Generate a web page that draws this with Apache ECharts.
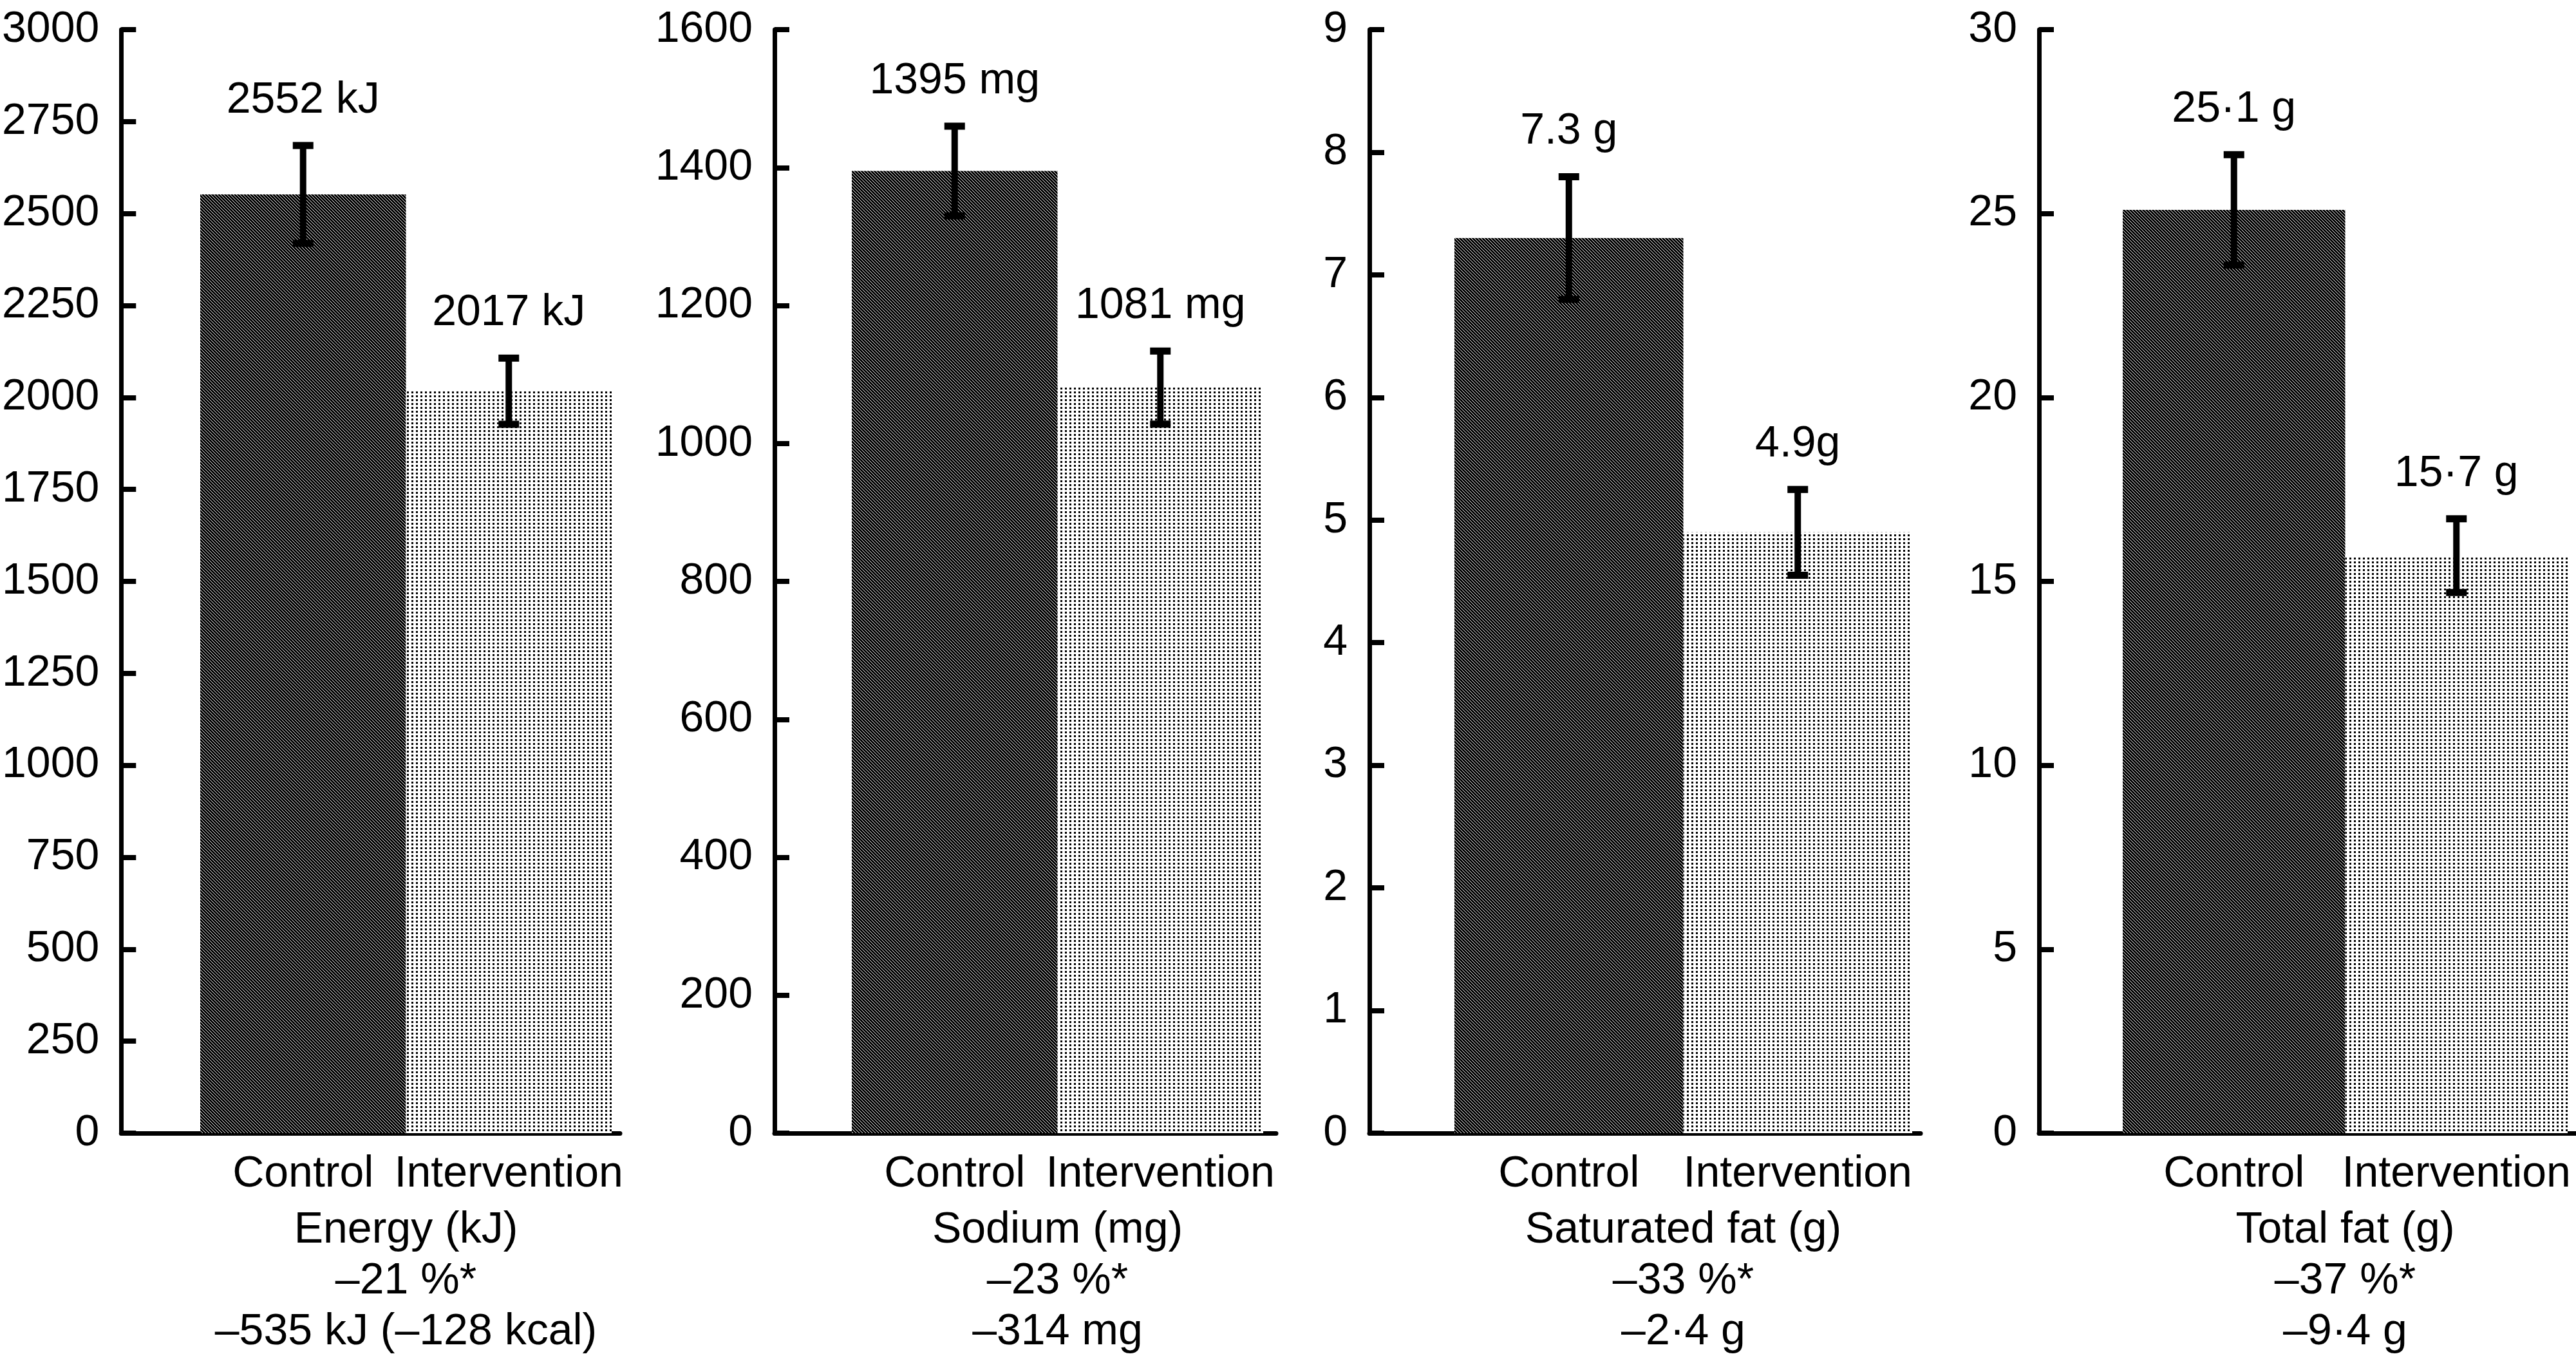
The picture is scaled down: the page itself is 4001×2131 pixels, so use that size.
<!DOCTYPE html>
<html>
<head>
<meta charset="utf-8">
<script src="https://cdn.jsdelivr.net/npm/echarts@6/dist/echarts.min.js"></script>
<style>
html,body{margin:0;padding:0;background:#fff;}
#chart{width:4001px;height:2131px;}
</style>
</head>
<body>
<div id="chart"></div>
<script>
// ---------- data ----------
const categories = ['Control', 'Intervention'];

const energyMeans = [2552, 2017];
const energyErrors = [133, 90];
const energyLabels = ['2552 kJ', '2017 kJ'];
const energyTitle = ['Energy (kJ)', '–21 %*', '–535 kJ (–128 kcal)'];

const sodiumMeans = [1395, 1081];
const sodiumErrors = [65, 53];
const sodiumLabels = ['1395 mg', '1081 mg'];
const sodiumTitle = ['Sodium (mg)', '–23 %*', '–314 mg'];

const satFatMeans = [7.3, 4.9];
const satFatErrors = [0.5, 0.35];
const satFatLabels = ['7.3 g', '4.9g'];
const satFatTitle = ['Saturated fat (g)', '–33 %*', '–2·4 g'];

const totalFatMeans = [25.1, 15.7];
const totalFatErrors = [1.5, 1.0];
const totalFatLabels = ['25·1 g', '15·7 g'];
const totalFatTitle = ['Total fat (g)', '–37 %*', '–9·4 g'];

const axisMaxes = [3000, 1600, 9, 30];
const axisIntervals = [250, 200, 1, 5];

// ---------- layout / style ----------
const FONT = '"Liberation Sans", Arial, Helvetica, sans-serif';
const TOP = 46, BOTTOM = 1760;
const layout = [
  {axisX: 187,  barL: 311,  barR: 950,  lineEnd: 963},
  {axisX: 1203, barL: 1323, barR: 1962, lineEnd: 1982},
  {axisX: 2127, barL: 2259, barR: 2970, lineEnd: 2983},
  {axisX: 3167, barL: 3297, barR: 3988, lineEnd: 4001}
];

function hatchPattern() {
  const c = document.createElement('canvas');
  c.width = 5; c.height = 5;
  const g = c.getContext('2d');
  g.fillStyle = '#000'; g.fillRect(0, 0, 5, 5);
  g.fillStyle = '#fff';
  for (let i = 0; i < 5; i++) g.fillRect(i, i, 1, 1);
  return c;
}
function dotPattern() {
  const c = document.createElement('canvas');
  c.width = 7; c.height = 6;
  const g = c.getContext('2d');
  g.fillStyle = '#fff'; g.fillRect(0, 0, 7, 6);
  g.fillStyle = '#000'; g.fillRect(2, 2, 3, 3);
  return c;
}
const barFills = [
  {image: hatchPattern(), repeat: 'repeat'},
  {image: dotPattern(), repeat: 'repeat'}
];

const panels = [
  {means: energyMeans, errors: energyErrors, labels: energyLabels, title: energyTitle},
  {means: sodiumMeans, errors: sodiumErrors, labels: sodiumLabels, title: sodiumTitle},
  {means: satFatMeans, errors: satFatErrors, labels: satFatLabels, title: satFatTitle},
  {means: totalFatMeans, errors: totalFatErrors, labels: totalFatLabels, title: totalFatTitle}
];

const grid = [], xAxis = [], yAxis = [], series = [];
panels.forEach((p, i) => {
  const L = layout[i];
  const a = i * 2, b = i * 2 + 1;
  grid.push({left: L.axisX, top: TOP, width: L.lineEnd - L.axisX, height: BOTTOM - TOP, containLabel: false});
  grid.push({left: L.barL, top: TOP, width: L.barR - L.barL, height: BOTTOM - TOP, containLabel: false});

  xAxis.push({
    gridIndex: a, type: 'category', data: [''],
    axisLine: {show: true, lineStyle: {color: '#000', width: 7}},
    axisTick: {show: false}, axisLabel: {show: false}, splitLine: {show: false}
  });
  xAxis.push({
    gridIndex: b, type: 'category', data: categories,
    boundaryGap: true,
    axisLine: {show: false}, axisTick: {show: false}, splitLine: {show: false},
    axisLabel: {interval: 0, color: '#000', fontSize: 68, fontFamily: FONT, margin: 30},
    name: p.title.join('\n'), nameLocation: 'middle', nameGap: 112,
    nameTextStyle: {color: '#000', fontSize: 68, fontFamily: FONT, lineHeight: 79}
  });
  yAxis.push({
    gridIndex: a, type: 'value', min: 0, max: axisMaxes[i], interval: axisIntervals[i],
    axisLine: {show: true, lineStyle: {color: '#000', width: 7}},
    axisTick: {show: true, inside: true, length: 23, lineStyle: {color: '#000', width: 8}},
    axisLabel: {color: '#000', fontSize: 68, fontFamily: FONT, margin: 34,
                formatter: function (v) { return String(v); }},
    splitLine: {show: false}
  });
  yAxis.push({
    gridIndex: b, type: 'value', min: 0, max: axisMaxes[i], interval: axisIntervals[i], show: false
  });

  series.push({
    type: 'bar', xAxisIndex: b, yAxisIndex: b,
    barCategoryGap: '0%', barGap: '0%',
    data: p.means.map((v, k) => ({value: v, itemStyle: {color: barFills[k]}})),
    silent: true, animation: false, z: 2
  });

  const labels = p.labels;
  series.push({
    type: 'custom', xAxisIndex: b, yAxisIndex: b, animation: false, silent: true, z: 5,
    data: p.means.map((m, k) => [k, m - p.errors[k], m + p.errors[k]]),
    encode: {x: 0, y: [1, 2]},
    renderItem: function (params, api) {
      const x = api.value(0), lo = api.value(1), hi = api.value(2);
      const pH = api.coord([x, hi]);
      const pL = api.coord([x, lo]);
      const cap = 32;
      return {
        type: 'group',
        children: [
          {type: 'line', shape: {x1: pH[0], y1: pH[1], x2: pL[0], y2: pL[1]},
           style: {stroke: '#000', lineWidth: 10}},
          {type: 'line', shape: {x1: pH[0] - cap / 2, y1: pH[1], x2: pH[0] + cap / 2, y2: pH[1]},
           style: {stroke: '#000', lineWidth: 11}},
          {type: 'line', shape: {x1: pL[0] - cap / 2, y1: pL[1], x2: pL[0] + cap / 2, y2: pL[1]},
           style: {stroke: '#000', lineWidth: 11}},
          {type: 'text', x: pH[0], y: pH[1] - 70,
           style: {text: labels[params.dataIndex], fill: '#000', fontSize: 68, fontFamily: FONT,
                   align: 'center', verticalAlign: 'middle'}}
        ]
      };
    }
  });
});

const chart = echarts.init(document.getElementById('chart'), null, {renderer: 'canvas', width: 4001, height: 2131});
chart.setOption({
  backgroundColor: '#fff',
  animation: false,
  textStyle: {fontFamily: FONT},
  grid: grid, xAxis: xAxis, yAxis: yAxis, series: series
});
</script>
</body>
</html>
